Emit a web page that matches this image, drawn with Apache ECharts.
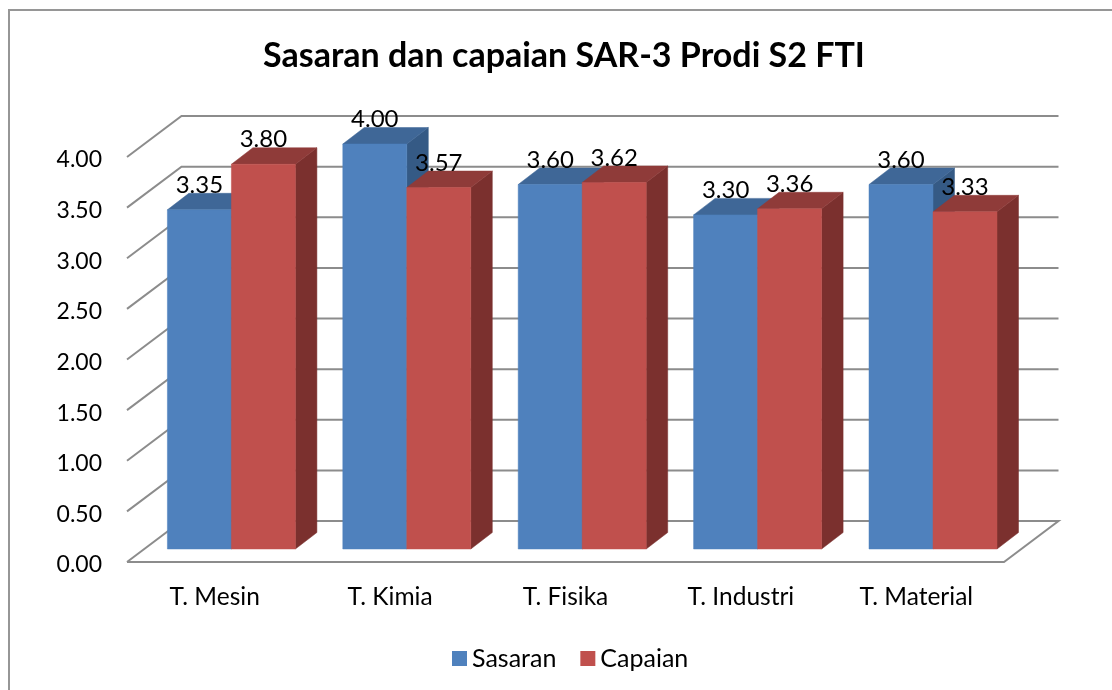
<!DOCTYPE html>
<html>
<head>
<meta charset="utf-8">
<style>html,body{margin:0;padding:0;background:#fff}#c{width:1112px;height:690px}</style>
<script src="https://cdn.jsdelivr.net/npm/echarts@6/dist/echarts.min.js"></script>
</head>
<body>
<div id="c"></div>
<script>
const categories = ['T. Mesin', 'T. Kimia', 'T. Fisika', 'T. Industri', 'T. Material'];
const sasaran = [3.35, 4.00, 3.60, 3.30, 3.60];
const capaian = [3.80, 3.57, 3.62, 3.36, 3.33];
const tickValues = [0, 0.5, 1, 1.5, 2, 2.5, 3, 3.5, 4];
const titleText = 'Sasaran dan capaian SAR-3 Prodi S2 FTI';

const FONT = 'Lato';
const WALL = [54.5, -41];      // depth of the floor
const BAR_FRONT = [16.7, -13]; // bar front face, in front of the back wall
const BAR_DEPTH = [21.5, -16.5];
const BAR_W = 64;
const GRID = '#8c8c8c';

function pts(a) { return a.map(p => [p[0], p[1]]); }
function poly(points, fill) {
  return { type: 'polygon', shape: { points: pts(points) }, style: { fill: fill, stroke: fill, lineWidth: 0.5 } };
}
function barRender(side, colors) {
  return function (params, api) {
    const idx = api.value(0), v = api.value(1);
    const base = api.coord([idx, 0]), top = api.coord([idx, v]);
    const x0 = base[0] + BAR_FRONT[0] + (side < 0 ? -BAR_W : 0);
    const x1 = x0 + BAR_W;
    const yB = base[1] + BAR_FRONT[1], yT = top[1] + BAR_FRONT[1];
    const dx = BAR_DEPTH[0], dy = BAR_DEPTH[1];
    return {
      type: 'group',
      children: [
        poly([[x1, yT], [x1 + dx, yT + dy], [x1 + dx, yB + dy], [x1, yB]], colors[2]),
        poly([[x0, yT], [x0 + dx, yT + dy], [x1 + dx, yT + dy], [x1, yT]], colors[1]),
        poly([[x0, yT], [x1, yT], [x1, yB], [x0, yB]], colors[0]),
        {
          type: 'text', z2: 100,
          style: {
            text: v.toFixed(2), x: (x0 + x1) / 2, y: yT + dy - 8,
            align: 'center', verticalAlign: 'middle',
            font: '24px ' + FONT, fill: '#000'
          }
        }
      ]
    };
  };
}
function wallRender(params, api) {
  const v = api.value(1);
  const last = categories.length - 1;
  const band = api.size([1, 0])[0];
  const l = api.coord([0, v]), r = api.coord([last, v]);
  const xL = l[0] - band / 2, xR = r[0] + band / 2, y = l[1];
  const ls = { stroke: GRID, lineWidth: 2, fill: null };
  const path = [[xL, y], [xL + WALL[0], y + WALL[1]], [xR + WALL[0], y + WALL[1]]];
  if (v === 0) path.push([xR, y], [xL, y]);
  return { type: 'polyline', shape: { points: path }, style: ls };
}

const chart = echarts.init(document.getElementById('c'), null, { renderer: 'canvas' });
chart.setOption({
  animation: false,
  backgroundColor: '#fff',
  title: {
    text: titleText, left: 258, top: 34,
    textStyle: { fontFamily: FONT, fontWeight: 'bold', fontSize: 34, color: '#000' }
  },
  legend: {
    data: ['Sasaran', 'Capaian'], top: 641, left: 447,
    icon: 'rect', itemWidth: 15, itemHeight: 15, itemGap: 24, padding: [5, 5, 5, 5],
    textStyle: { fontFamily: FONT, fontSize: 25, color: '#000' }
  },
  grid: { left: 127, top: 157, width: 877, height: 405 },
  xAxis: {
    type: 'category', data: categories,
    axisLine: { show: false }, axisTick: { show: false },
    axisLabel: { margin: 23, fontFamily: FONT, fontSize: 24.5, color: '#000' }
  },
  yAxis: {
    type: 'value', min: 0, max: 4, interval: 0.5,
    axisLine: { show: false }, axisTick: { show: false }, splitLine: { show: false },
    axisLabel: { margin: 25, fontFamily: FONT, fontSize: 23, color: '#000', verticalAlign: 'top', lineHeight: 6, formatter: v => v.toFixed(2) }
  },
  graphic: [{
    type: 'rect', shape: { x: 9, y: 10, width: 1200, height: 800 },
    style: { fill: null, stroke: '#969696', lineWidth: 2 }, silent: true, z: 0
  }],
  series: [
    { type: 'custom', name: 'walls', coordinateSystem: 'cartesian2d', z: 1, silent: true,
      renderItem: wallRender, encode: { x: 0, y: 1 }, data: tickValues.map(v => [0, v]) },
    { type: 'custom', name: 'Sasaran', coordinateSystem: 'cartesian2d', z: 2, silent: true,
      itemStyle: { color: '#4F81BD' },
      renderItem: barRender(-1, ['#4F81BD', '#3F6797', '#355A85']), encode: { x: 0, y: 1 },
      data: sasaran.map((v, i) => [i, v]) },
    { type: 'custom', name: 'Capaian', coordinateSystem: 'cartesian2d', z: 3, silent: true,
      itemStyle: { color: '#C0504D' },
      renderItem: barRender(1, ['#C0504D', '#8F3B39', '#7B302E']), encode: { x: 0, y: 1 },
      data: capaian.map((v, i) => [i, v]) }
  ]
});
</script>
</body>
</html>
